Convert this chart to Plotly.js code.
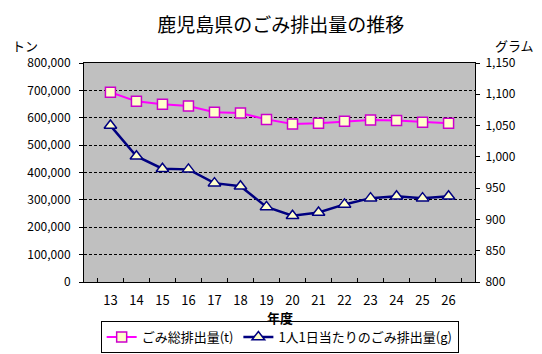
<!DOCTYPE html>
<html><head><meta charset="utf-8">
<script src="https://cdn.plot.ly/plotly-3.0.1.min.js"></script>
<style>html,body{margin:0;padding:0;background:#fff}#c{width:542px;height:354px}</style>
</head><body><div id="c"></div>
<script>
const years = ['13','14','15','16','17','18','19','20','21','22','23','24','25','26'];
const totalTons = [693000, 660000, 649000, 643000, 620000, 617000, 594000, 577000, 580000, 587000, 592000, 590000, 584000, 580000];
const perCapitaGrams = [1050, 1001, 981, 980, 958, 953, 920, 906, 911, 924, 934, 937, 934, 937];
const seriesNames = ['ごみ総排出量(t)', '1人1日当たりのごみ排出量(g)'];

const f = 'Noto Sans CJK JP, sans-serif';
const traces = [
  {x: years, y: totalTons, name: seriesNames[0], type: 'scatter', mode: 'lines+markers',
   line: {color: '#ff00ff', width: 2},
   marker: {symbol: 'square', size: 10, color: '#ffffcc', line: {color: '#cc00cc', width: 1.5}}},
  {x: years, y: perCapitaGrams, name: seriesNames[1], type: 'scatter', mode: 'lines+markers', yaxis: 'y2',
   line: {color: '#000080', width: 2.5},
   marker: {symbol: 'triangle-up', size: 11, color: '#ffffcc', line: {color: '#000080', width: 1.5}}}
];
const layout = {
  width: 542, height: 354,
  margin: {l: 84, r: 67, t: 63, b: 72},
  paper_bgcolor: '#ffffff', plot_bgcolor: '#c0c0c0',
  font: {family: f, size: 12, color: '#000'},
  showlegend: true,
  legend: {orientation: 'h', x: 0.516, xanchor: 'center', xref: 'container', y: 0.048, yanchor: 'middle', yref: 'container',
           bordercolor: '#000', borderwidth: 1, bgcolor: '#fff', font: {family: f, size: 13}, itemwidth: 30, tracegroupgap: 0},
  xaxis: {type: 'category', showline: true, linecolor: '#000', linewidth: 1, mirror: true,
          ticks: 'inside', tickson: 'boundaries', ticklen: 4, tickcolor: '#000', ticklabelstandoff: 6,
          tickfont: {family: f, size: 13}, showgrid: false, zeroline: false},
  yaxis: {range: [0, 800000], dtick: 100000, tickformat: ',d', showline: true, linecolor: '#000', mirror: true,
          ticks: 'outside', ticklen: 4, tickcolor: '#000', tickfont: {family: f, size: 12}, ticklabelstandoff: 6,
          showgrid: true, gridcolor: '#000', gridwidth: 1, griddash: '3px,2px', zeroline: false, fixedrange: true},
  yaxis2: {range: [800, 1150], dtick: 50, tickformat: ',d', overlaying: 'y', side: 'right', showline: true, linecolor: '#000',
           ticks: 'outside', ticklen: 4, tickcolor: '#000', tickfont: {family: f, size: 12}, ticklabelstandoff: 3,
           showgrid: false, zeroline: false},
  title: {text: '鹿児島県のごみ排出量の推移', font: {family: f, size: 19}, x: 0.518, xanchor: 'center', y: 0.927, yanchor: 'middle', yref: 'container'},
  annotations: [
    {text: 'トン', xref: 'paper', yref: 'paper', x: -0.19, y: 1.08, xanchor: 'left', yanchor: 'middle', showarrow: false, font: {family: f, size: 13}},
    {text: 'グラム', xref: 'paper', yref: 'paper', x: 1.155, y: 1.08, xanchor: 'right', yanchor: 'middle', showarrow: false, font: {family: f, size: 13}},
    {text: '<b>年度</b>', xref: 'paper', yref: 'paper', x: 0.5, y: -0.16, xanchor: 'center', yanchor: 'middle', showarrow: false, font: {family: f, size: 13}}
  ]
};
Plotly.newPlot('c', traces, layout, {staticPlot: true});
</script></body></html>
